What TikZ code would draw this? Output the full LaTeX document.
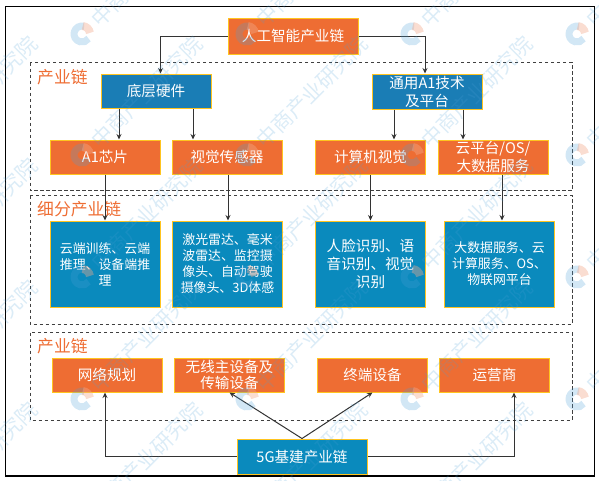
\documentclass[tikz,border=0pt]{standalone}
\usepackage{fontspec}
\setmainfont{Noto Sans CJK SC}
\usetikzlibrary{arrows.meta}
\definecolor{boxorange}{HTML}{EE6D33}
\definecolor{boxblue}{HTML}{1A7DB5}
\definecolor{detailblue}{HTML}{0A8ABD}
\definecolor{boxedge}{HTML}{FFC41F}
\definecolor{markblue}{HTML}{4C9FD6}
\definecolor{markorange}{HTML}{F2A98C}
\tikzset{
  chainbox/.style={draw=boxedge, line width=1pt, text=white, align=center, inner sep=0pt,
    minimum width=110pt, minimum height=34pt, font=\fontsize{14.6}{16}\selectfont},
  orangebox/.style={chainbox, fill=boxorange},
  bluebox/.style={chainbox, fill=boxblue},
  detailbox/.style={chainbox, fill=detailblue, minimum height=86pt},
  smalltext/.style={font=\fontsize{12.9}{16}\selectfont},
  band/.style={draw=black!75, line width=1pt, dash pattern=on 3.5pt off 2.5pt},
  bandlabel/.style={text=boxorange, inner sep=0pt, font=\fontsize{16.8}{18}\selectfont},
  link/.style={draw=black!80, line width=1pt, -{Stealth[length=5.5pt,width=5pt]}},
  wmtext/.style={text=markblue, opacity=.2, inner sep=0pt, rotate=45, font=\fontsize{21}{21}\selectfont}
}
\begin{document}
\begin{tikzpicture}[x=1pt, y=-1pt]
  \useasboundingbox (0,0) rectangle (599,480);

  % marco exterior y bandas
  \draw[black, line width=1.2pt] (5.5,6.5) rectangle (594.5,476);
  \draw[band] (30,62.5) rectangle (572,190.5);
  \draw[band] (30,195.5) rectangle (572,324);
  \draw[band] (30,332.5) rectangle (572,420);
  \node[bandlabel, anchor=west] (bandtop) at (37,77) {产业链};
  \node[bandlabel, anchor=west] (bandmid) at (37,209) {细分产业链};
  \node[bandlabel, anchor=west] (bandlow) at (37,346) {产业链};

  % cadena principal
  \node[orangebox, minimum width=130pt, minimum height=36pt] (aichain) at (293,36) {人工智能产业链};
  \node[bluebox] (hardware) at (156,91) {底层硬件};
  \node[bluebox, minimum height=35pt] (platform) at (427,91.5) {通用A1技术\\[2pt]及平台};

  % segunda fila
  \node[orangebox] (chip) at (105,157) {A1芯片};
  \node[orangebox] (vision) at (227,157) {视觉传感器};
  \node[orangebox] (compvision) at (370.5,157) {计算机视觉};
  \node[orangebox] (cloud) at (493,157) {云平台/OS/\\[2pt]大数据服务};

  % detalle
  \node[detailbox, smalltext] (chipinfo) at (105,264) {云端训练、云端\\推理、设备端推\\理};
  \node[detailbox, smalltext] (visioninfo) at (227.5,264) {激光雷达、毫米\\波雷达、监控摄\\像头、自动驾驶\\摄像头、3D体感};
  \node[detailbox] (compinfo) at (370.5,264) {人脸识别、语\\[2pt]音识别、视觉\\[2pt]识别};
  \node[detailbox, smalltext] (cloudinfo) at (499.5,264) {大数据服务、云\\计算服务、OS、\\物联网平台};

  % fila 5G
  \node[orangebox] (planning) at (107,375) {网络规划};
  \node[orangebox] (wireless) at (229.5,375) {无线主设备及\\传输设备};
  \node[orangebox] (terminal) at (372.5,375) {终端设备};
  \node[orangebox] (operator) at (494.5,375) {运营商};
  \node[chainbox, fill=detailblue, minimum width=130pt, minimum height=35pt] (fiveg) at (302,456.5) {5G基建产业链};

  % flechas
  \draw[link] (aichain.west) -| ([xshift=4.5pt]hardware.north);
  \draw[link] (aichain.east) -| ([xshift=-2pt]platform.north);
  \draw[link] ([xshift=-37pt]hardware.south) -- ([xshift=14pt]chip.north);
  \draw[link] ([xshift=37pt]hardware.south) -- ([xshift=-34pt]vision.north);
  \draw[link] ([xshift=-33pt]platform.south) -- ([xshift=23.5pt]compvision.north);
  \draw[link] ([xshift=36pt]platform.south) -- ([xshift=-30pt]cloud.north);
  \draw[link] (chip.south) -- (chipinfo.north);
  \draw[link] ([xshift=1pt]vision.south) -- ([xshift=.5pt]visioninfo.north);
  \draw[link] (compvision.south) -- (compinfo.north);
  \draw[link] ([xshift=9pt]cloud.south) -- ([xshift=2.5pt]cloudinfo.north);
  \draw[link] (fiveg.west) -| ([xshift=-2pt]planning.south);
  \draw[link] (fiveg.east) -| ([xshift=19.5pt]operator.south);
  \draw[link] (fiveg.north) -- (wireless.south);
  \draw[link] (fiveg.north) -- (terminal.south);

  % marca de agua
  \begin{scope}
    \clip (0,0) rectangle (599,480);
    \foreach \i/\lx in {0/-83,1/82,2/247,3/412,4/577} {
      \foreach \j/\ly in {0/34,1/155,2/277,3/399,4/521} {
        \draw[markblue, opacity=.25, line width=7pt] (\lx,\ly) ++(-75:8) arc[start angle=-75, end angle=-325, radius=8];
        \draw[markorange, opacity=.4, line width=8pt] (\lx,\ly) ++(-85:8) arc[start angle=-85, end angle=-8, radius=8];
        \node[wmtext] (mark\i\j) at (\lx+65,\ly-63) {中商产业研究院};
      }
    }
  \end{scope}
\end{tikzpicture}
\end{document}
